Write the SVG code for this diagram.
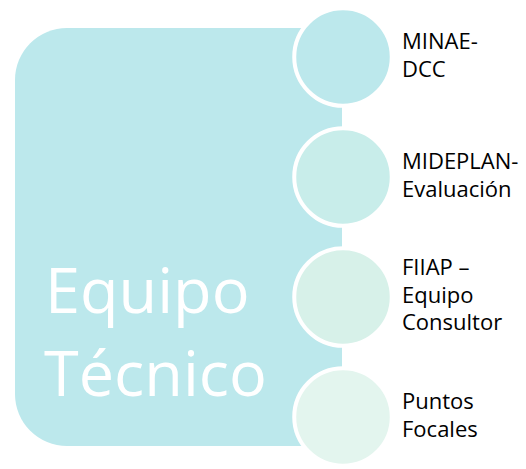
<svg xmlns="http://www.w3.org/2000/svg" width="526" height="469" viewBox="0 0 526 469">
<style>
.big{font-family:"Open Sans","Liberation Sans",sans-serif;font-size:63px;fill:#ffffff}
.lbl{font-family:"Open Sans","Liberation Sans",sans-serif;font-size:22px;fill:#000000}
.dot{stroke:#ffffff;stroke-width:4}
</style>
<rect width="526" height="469" fill="#ffffff"/>
<g id="equipo-tecnico">
<path d="M67,28 H342 V446 H67 A52,52 0 0 1 15,394 V80 A52,52 0 0 1 67,28 Z" fill="#bce8ec"/>
<text class="big" x="45" y="313">Equipo</text>
<text class="big" x="44" y="396">Técnico</text>
</g>
<g id="connectors"></g>
<g id="minae">
<circle class="dot" cx="343" cy="57" r="48.75" fill="#bce8ec"/>
<text class="lbl" x="402" y="49">MINAE-</text>
<text class="lbl" x="402" y="77">DCC</text>
</g>
<g id="mideplan">
<circle class="dot" cx="343" cy="177" r="48.75" fill="#c8edea"/>
<text class="lbl" x="402" y="169">MIDEPLAN-</text>
<text class="lbl" x="402" y="197">Evaluación</text>
</g>
<g id="fiiap">
<circle class="dot" cx="343" cy="297" r="48.75" fill="#d7f1e9"/>
<text class="lbl" x="402" y="275">FIIAP –</text>
<text class="lbl" x="402" y="302.5">Equipo</text>
<text class="lbl" x="402" y="330">Consultor</text>
</g>
<g id="puntos">
<circle class="dot" cx="343" cy="417" r="48.75" fill="#e3f5ee"/>
<text class="lbl" x="402" y="409">Puntos</text>
<text class="lbl" x="402" y="437">Focales</text>
</g>
</svg>
